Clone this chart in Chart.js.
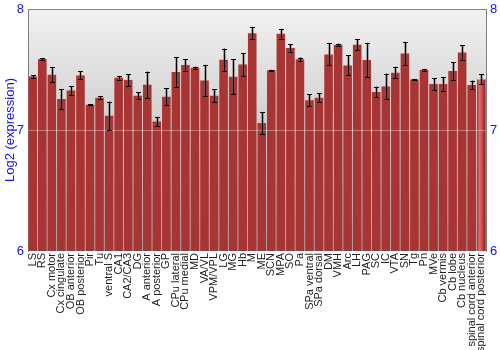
<!DOCTYPE html>
<html><head><meta charset="utf-8">
<script src="https://cdn.jsdelivr.net/npm/chart.js@4/dist/chart.umd.min.js"></script>
<style>html,body{margin:0;padding:0;background:#fff}#wrap{width:500px;height:350px}</style>
</head><body><div id="wrap"><canvas id="c" width="500" height="350"></canvas></div>
<script>
const categories = ["LS","RS","Cx motor","Cx cingulate","OB anterior","OB posterior","Pir","Tu","ventral S","CA1","CA2/CA3","DG","A anterior","A posterior","GP","CPu lateral","CPu medial","MD","VA/VL","VPM/VPL","LG","MG","Hb","M","ME","SCN","MPA","SO","Pa","SPa ventral","SPa dorsal","DM","VMH","Arc","LH","PAG","SC","IC","VTA","SN","Tg","Pn","MVe","Cb vermis","Cb lobe","Cb nucleus","spinal cord anterior","spinal cord posterior"];
const values = [7.443,7.587,7.457,7.256,7.327,7.451,7.209,7.267,7.118,7.432,7.413,7.283,7.374,7.071,7.275,7.479,7.537,7.515,7.41,7.283,7.581,7.44,7.542,7.8,7.058,7.493,7.796,7.678,7.584,7.245,7.267,7.625,7.705,7.534,7.705,7.578,7.314,7.36,7.474,7.633,7.418,7.496,7.38,7.38,7.488,7.641,7.372,7.418];
const errors = [0.01,0.006,0.062,0.08,0.037,0.033,0.004,0.011,0.117,0.015,0.05,0.028,0.108,0.038,0.072,0.124,0.047,0.008,0.128,0.055,0.091,0.143,0.094,0.052,0.091,0.005,0.04,0.03,0.015,0.05,0.039,0.09,0.008,0.083,0.044,0.142,0.044,0.106,0.048,0.095,0.004,0.005,0.05,0.056,0.072,0.061,0.036,0.041];
const yTicks = [6,7,8];

const bgPlugin = {
  id:'bg',
  beforeDraw(chart){
    const {ctx, chartArea:a} = chart;
    const g = ctx.createLinearGradient(0,a.top,0,a.bottom);
    g.addColorStop(0,'#f2f2f2'); g.addColorStop(1,'#a8a8a8');
    ctx.save(); ctx.fillStyle=g; ctx.fillRect(a.left,a.top,a.right-a.left,a.bottom-a.top);
    ctx.strokeStyle='#808080'; ctx.lineWidth=1;
    ctx.beginPath(); ctx.moveTo(a.left,a.top+0.5); ctx.lineTo(a.right,a.top+0.5); ctx.stroke();
    ctx.restore();
  },
  beforeDatasetsDraw(chart){
    const ctx = chart.ctx;
    chart.getDatasetMeta(0).data.forEach(el=>{
      const w = el.width;
      const g = ctx.createLinearGradient(el.x-w/2,0,el.x+w/2,0);
      g.addColorStop(0,'#a83434');
      g.addColorStop(0.3,'#e26a6a');
      g.addColorStop(0.6,'#ca4a4a');
      g.addColorStop(1,'#821c1c');
      el.options.backgroundColor = g;
    });
  },
  afterDatasetsDraw(chart){
    const {ctx, chartArea:a, scales:{y}} = chart;
    ctx.save();
    const y7 = Math.round(y.getPixelForValue(7))+0.5;
    ctx.strokeStyle='rgba(255,255,255,0.35)'; ctx.lineWidth=1;
    ctx.beginPath(); ctx.moveTo(a.left,y7); ctx.lineTo(a.right,y7); ctx.stroke();
    const meta = chart.getDatasetMeta(0);
    meta.data.forEach((bar,i)=>{
      const cx = Math.round(bar.x)+0.5;
      const t = y.getPixelForValue(values[i]+errors[i]);
      const b = y.getPixelForValue(values[i]-errors[i]);
      ctx.strokeStyle='rgba(90,90,90,0.45)'; ctx.lineWidth=3;
      ctx.beginPath(); ctx.moveTo(cx,t); ctx.lineTo(cx,b); ctx.stroke();
      ctx.strokeStyle='#000'; ctx.lineWidth=1;
      ctx.beginPath(); ctx.moveTo(cx,t); ctx.lineTo(cx,b);
      ctx.moveTo(cx-2.5,Math.round(t)+0.5); ctx.lineTo(cx+2.5,Math.round(t)+0.5);
      ctx.moveTo(cx-2.5,Math.round(b)+0.5); ctx.lineTo(cx+2.5,Math.round(b)+0.5);
      ctx.stroke();
    });
    ctx.restore();
  }
};

new Chart(document.getElementById('c'),{
  type:'bar',
  data:{labels:categories,datasets:[{data:values,backgroundColor:'#b03030',borderWidth:0,barPercentage:0.9,categoryPercentage:1,base:6}]},
  options:{
    responsive:false,animation:false,
    layout:{padding:{top:9,left:0,right:0,bottom:0}},
    plugins:{legend:{display:false},tooltip:{enabled:false}},
    scales:{
      x:{
        grid:{display:false,drawTicks:false},
        border:{display:false},
        ticks:{autoSkip:false,maxRotation:90,minRotation:90,padding:2,color:'#222',font:{family:'Liberation Sans, Arial',size:11}},
        afterFit(s){s.height=99;}
      },
      y:{
        position:'left',min:6,max:8,
        grid:{display:false,drawTicks:true,tickLength:3,color:'#808080'},
        border:{display:true,color:'#808080'},
        afterBuildTicks(s){s.ticks=yTicks.map(v=>({value:v}));},
        ticks:{color:'#1010ff',padding:1,font:{family:'Liberation Sans, Arial',size:13}},
        title:{display:true,text:'Log2 (expression)',color:'#1010ff',padding:{top:3,bottom:0},font:{family:'Liberation Sans, Arial',size:13}},
        afterFit(s){s.width=28;}
      },
      y2:{
        position:'right',min:6,max:8,
        grid:{display:false,drawTicks:true,tickLength:3,color:'#808080'},
        border:{display:true,color:'#808080'},
        afterBuildTicks(s){s.ticks=yTicks.map(v=>({value:v}));},
        ticks:{color:'#1010ff',padding:1,font:{family:'Liberation Sans, Arial',size:13}},
        afterFit(s){s.width=14;}
      }
    }
  },
  plugins:[bgPlugin]
});
</script></body></html>
